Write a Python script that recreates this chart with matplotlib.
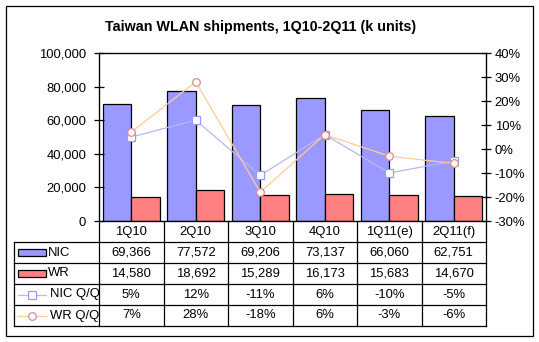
import matplotlib
matplotlib.use("Agg")
import matplotlib.pyplot as plt
from matplotlib.patches import Rectangle
from matplotlib.lines import Line2D
from matplotlib.ticker import FuncFormatter, MultipleLocator

plt.rcParams['font.family'] = ['Liberation Sans', 'DejaVu Sans']

quarters = ["1Q10", "2Q10", "3Q10", "4Q10", "1Q11(e)", "2Q11(f)"]
nic = [69366, 77572, 69206, 73137, 66060, 62751]
wr = [14580, 18692, 15289, 16173, 15683, 14670]
nic_qq = [5, 12, -11, 6, -10, -5]
wr_qq = [7, 28, -18, 6, -3, -6]

nic_color = "#9999FF"
wr_color = "#FF8080"
nic_line = "#B8B8F0"
wr_line = "#FFCC99"
nic_mark = "#9999FF"
wr_mark = "#E08888"

W, H = 539.0, 342.0
fig = plt.figure(figsize=(W / 100, H / 100), dpi=100)

def fbox(x0, y0, x1, y1):
    # pixel box (top-left origin) -> figure fraction rect
    return [x0 / W, (H - y1) / H, (x1 - x0) / W, (y1 - y0) / H]

# outer frame
fig.patches.append(Rectangle((6 / W, (H - 336) / H), 527 / W, 330 / H,
                             transform=fig.transFigure, fill=False,
                             edgecolor="black", linewidth=0.9))

fig.text(261 / W, 1 - 27 / H, "Taiwan WLAN shipments, 1Q10-2Q11 (k units)",
         ha="center", va="center", fontsize=10.3, fontweight="bold")

fs = 9.4

### main chart
ax = fig.add_axes(fbox(99, 53, 486, 221))
x = list(range(len(quarters)))
bw = 0.44
ax.bar([i - 0.222 for i in x], nic, width=bw, color=nic_color, edgecolor="black", linewidth=0.9)
ax.bar([i + 0.222 for i in x], wr, width=bw, color=wr_color, edgecolor="black", linewidth=0.9)
ax.set_xlim(-0.5, len(quarters) - 0.5)
ax.set_ylim(0, 100000)
ax.yaxis.set_major_locator(MultipleLocator(20000))
ax.yaxis.set_major_formatter(FuncFormatter(lambda v, p: "{:,}".format(int(v))))
ax.set_xticks([])
ax.tick_params(axis="y", direction="inout", length=6.5, width=0.9, pad=6, labelsize=fs)
for s in ax.spines.values():
    s.set_linewidth(0.9)

ax2 = ax.twinx()
ax2.plot(x, nic_qq, color=nic_line, linewidth=0.9, marker="s", markersize=5.5,
         markerfacecolor="white", markeredgecolor=nic_mark, markeredgewidth=0.9)
ax2.plot(x, wr_qq, color=wr_line, linewidth=0.9, marker="o", markersize=5.5,
         markerfacecolor="white", markeredgecolor=wr_mark, markeredgewidth=0.9)
ax2.set_ylim(-30, 40)
ax2.yaxis.set_major_locator(MultipleLocator(10))
ax2.yaxis.set_major_formatter(FuncFormatter(lambda v, p: "%d%%" % int(round(v))))
ax2.tick_params(axis="y", direction="inout", length=6.5, width=0.9, pad=3, labelsize=fs)
ax2.set_xlim(-0.5, len(quarters) - 0.5)

### data table under the chart
col_w = (486 - 99) / 6.0
xl = -(99 - 14) / col_w
tb = fig.add_axes(fbox(14, 221, 486, 326))
tb.set_xlim(xl - 0.5, len(quarters) - 0.5)
tb.set_ylim(0, 5)
tb.axis("off")

lw = 0.9
for yy in [0, 1, 2, 3, 4]:
    tb.plot([xl - 0.5, 5.5], [yy, yy], color="black", linewidth=lw, clip_on=False)
tb.plot([xl - 0.5, xl - 0.5], [0, 4], color="black", linewidth=lw, clip_on=False)
for i in range(len(quarters) + 1):
    tb.plot([i - 0.5, i - 0.5], [0, 5], color="black", linewidth=lw, clip_on=False)

for i, q in enumerate(quarters):
    tb.text(i, 4.5, q, ha="center", va="center", fontsize=fs)
    tb.text(i, 3.5, "{:,}".format(nic[i]), ha="center", va="center", fontsize=fs)
    tb.text(i, 2.5, "{:,}".format(wr[i]), ha="center", va="center", fontsize=fs)
    tb.text(i, 1.5, "%d%%" % nic_qq[i], ha="center", va="center", fontsize=fs)
    tb.text(i, 0.5, "%d%%" % wr_qq[i], ha="center", va="center", fontsize=fs)

k0 = (18 - 99) / col_w - 0.5
k1 = (46 - 99) / col_w - 0.5
kt = (48 - 99) / col_w - 0.5
kh = 0.33
tb.add_patch(Rectangle((k0, 3.5 - kh / 2), k1 - k0, kh, facecolor=nic_color,
                       edgecolor="black", linewidth=0.9, clip_on=False))
tb.add_patch(Rectangle((k0, 2.5 - kh / 2), k1 - k0, kh, facecolor=wr_color,
                       edgecolor="black", linewidth=0.9, clip_on=False))
tb.add_line(Line2D([k0, k1], [1.5, 1.5], color=nic_line, linewidth=0.9, clip_on=False))
tb.plot([(k0 + k1) / 2], [1.5], marker="s", markersize=5.5, markerfacecolor="white",
        markeredgecolor=nic_mark, markeredgewidth=0.9, clip_on=False)
tb.add_line(Line2D([k0, k1], [0.5, 0.5], color=wr_line, linewidth=0.9, clip_on=False))
tb.plot([(k0 + k1) / 2], [0.5], marker="o", markersize=5.5, markerfacecolor="white",
        markeredgecolor=wr_mark, markeredgewidth=0.9, clip_on=False)

tb.text(kt, 3.5, "NIC", ha="left", va="center", fontsize=fs)
tb.text(kt, 2.5, "WR", ha="left", va="center", fontsize=fs)
tb.text(kt + 0.03, 1.5, "NIC Q/Q", ha="left", va="center", fontsize=fs)
tb.text(kt + 0.03, 0.5, "WR Q/Q", ha="left", va="center", fontsize=fs)

fig.savefig("out.png", dpi=100, facecolor="white")
